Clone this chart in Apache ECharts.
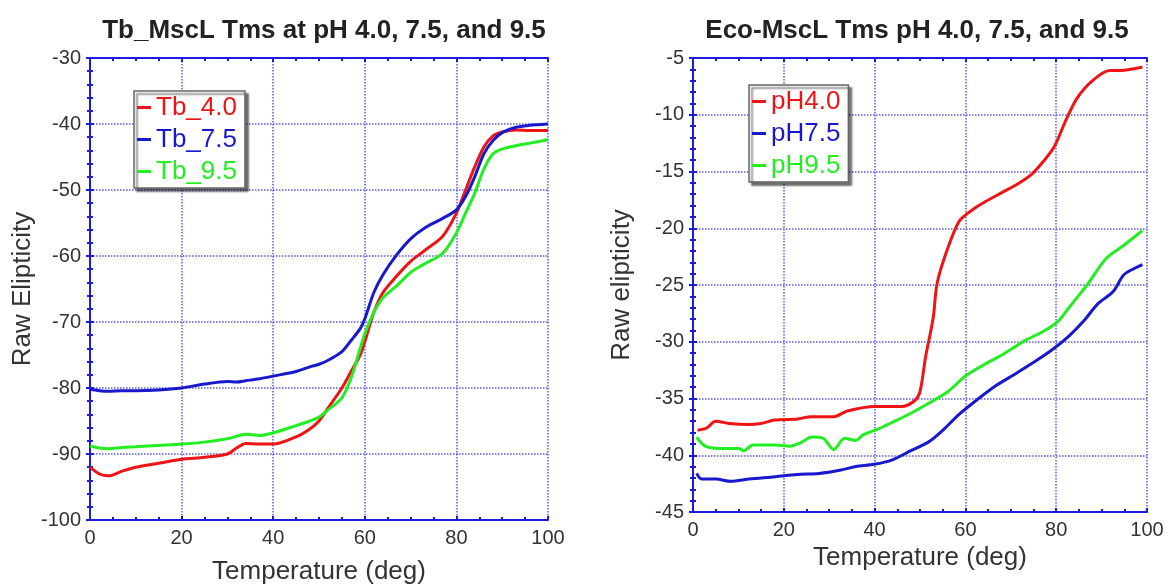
<!DOCTYPE html>
<html>
<head>
<meta charset="utf-8">
<script src="https://cdn.jsdelivr.net/npm/echarts@6/dist/echarts.min.js"></script>
<style>
html,body{margin:0;padding:0;background:#fff;}
#container{width:1170px;height:584px;}
</style>
</head>
<body>
<div id="container"></div>
<script>
// left panel: Tb_MscL
var tbTemp = [0,2,4,7,10,15,20,25,30,32,34,37,40,45,48,50,52,55,57,59,60,62,64,67,70,73,77,80,82,84,86,88,90,93,96,100];
var tb40 = [-92,-93,-93.3,-92.6,-92,-91.4,-90.8,-90.5,-90,-89.1,-88.4,-88.5,-88.5,-87.4,-86.2,-85,-83,-80,-77.5,-75,-73,-68.5,-65.5,-63,-60.8,-59.2,-57,-53.5,-50,-46.5,-43.5,-41.8,-41.2,-40.9,-41,-41];
var tb75 = [-80.2,-80.4,-80.5,-80.4,-80.4,-80.3,-80,-79.4,-79,-79.1,-78.9,-78.6,-78.2,-77.5,-76.8,-76.4,-75.8,-74.5,-72.8,-71,-69.5,-65.5,-62.8,-59.8,-57.4,-55.8,-54.3,-53,-51,-48,-44.5,-42.5,-41.3,-40.5,-40.2,-40];
var tb95 = [-88.8,-89.1,-89.2,-89,-88.9,-88.7,-88.5,-88.2,-87.7,-87.3,-87,-87.2,-86.8,-85.7,-85,-84.4,-83.3,-81.5,-78.5,-74,-71.8,-68.5,-66.3,-64.5,-62.5,-61.2,-59.6,-56.5,-53.5,-50.5,-46.8,-44.5,-43.8,-43.3,-42.9,-42.4];

// right panel: Eco-MscL
var ecoT40 = [1,3,5,8,12,15,18,23,26,31,34,40,46,48.8,50,51.2,52.9,53.7,55.3,58.6,61.8,64.2,68.3,71.5,74.7,77.2,79.6,82,84.5,87.7,91.8,94.2,99];
var eco40 = [-37.8,-37.6,-37,-37.2,-37.3,-37.2,-36.9,-36.8,-36.6,-36.6,-36.1,-35.7,-35.7,-35.2,-34.4,-31.4,-27.9,-25,-22.7,-19.4,-18.3,-17.7,-16.8,-16.1,-15.2,-14.1,-12.8,-10.6,-8.6,-7.1,-6.1,-6.1,-5.8];
var ecoT75 = [0.8,1.9,5.1,8.3,12.4,18.1,22.9,27.8,32.6,35.8,39.9,43.9,48,52,55.3,58.6,62.6,66.6,70.7,74.7,78.8,82.8,86,89.3,92.5,94.9,97.4,99];
var eco75 = [-41.6,-42.1,-42.1,-42.3,-42.1,-41.9,-41.7,-41.6,-41.3,-41,-40.8,-40.4,-39.6,-38.8,-37.7,-36.4,-35.1,-33.9,-32.9,-31.9,-30.8,-29.5,-28.2,-26.6,-25.6,-24.1,-23.5,-23.2];
var ecoT95 = [0.8,2.7,5.9,10,11.2,13.2,18.1,21.3,23.7,26.2,28.6,31,33.4,35.8,37.5,40.7,43.9,48,52,56.1,60.1,64.2,68.3,73.1,77.1,80.4,82.8,85.2,86.8,90.9,94.9,99];
var eco95 = [-38.4,-39.2,-39.4,-39.4,-39.6,-39.1,-39.1,-39.2,-38.9,-38.4,-38.5,-39.5,-38.5,-38.7,-38.2,-37.7,-37.1,-36.3,-35.4,-34.4,-33,-32,-31.1,-29.9,-29.1,-28.2,-27,-25.8,-25,-22.7,-21.5,-20.2];

var RED = '#ee1414', BLUE = '#1818cc', GREEN = '#22ee22';
var AXIS = '#1a1ae0';
var FONT = 'Liberation Sans, Arial, sans-serif';

function pairs(xs, ys){
    var out = [];
    for (var i = 0; i < xs.length; i++) out.push([xs[i], ys[i]]);
    return out;
}

// main axis (labels + grid) or mirror axis (ticks only)
function xAx(grid, pos, name, nameGap){
    var main = pos === 'bottom';
    return {
        type:'value', gridIndex:grid, position:pos, min:0, max:100, interval:20,
        name: main ? name : '', nameLocation:'middle', nameGap:nameGap,
        nameTextStyle:{fontFamily:FONT, fontSize:26, color:'#333'},
        axisLine:{show:true, lineStyle:{color:AXIS, width:2}},
        axisTick:{show:true, inside:true, length:4, lineStyle:{color:AXIS, width:2}},
        minorTick:{show:true, splitNumber:4, length:3, lineStyle:{color:AXIS, width:2}},
        axisLabel:{show:main, margin:8, fontFamily:FONT, fontSize:20, color:'#333'},
        splitLine:{show:main, lineStyle:{color:'#5a5af0', type:'dotted', width:1.5}}
    };
}
function yAx(grid, pos, min, max, step, name, nameGap){
    var main = pos === 'left';
    return {
        type:'value', gridIndex:grid, position:pos, min:min, max:max, interval:step,
        name: main ? name : '', nameLocation:'middle', nameGap:nameGap, nameRotate:90,
        nameTextStyle:{fontFamily:FONT, fontSize:26, color:'#333'},
        axisLine:{show:true, lineStyle:{color:AXIS, width:2}},
        axisTick:{show:true, inside:true, length:4, lineStyle:{color:AXIS, width:2}},
        minorTick:{show:true, splitNumber:5, length:3, lineStyle:{color:AXIS, width:2}},
        axisLabel:{show:main, margin:9, fontFamily:FONT, fontSize:20, color:'#333'},
        splitLine:{show:main, lineStyle:{color:'#5a5af0', type:'dotted', width:1.5}}
    };
}
function line(name, data, color, xi, yi){
    return {
        name:name, type:'line', xAxisIndex:xi, yAxisIndex:yi, data:data,
        showSymbol:false, smooth:0.3, lineStyle:{color:color, width:3}, itemStyle:{color:color}
    };
}
function legendBox(left, top, items){
    return {
        orient:'vertical', left:left, top:top, icon:'rect', itemWidth:14, itemHeight:3,
        itemGap:5, padding:[3,8,3,3],
        backgroundColor:'#fff', borderColor:'#666', borderWidth:1.5,
        shadowColor:'rgba(0,0,0,0.55)', shadowBlur:2, shadowOffsetX:3, shadowOffsetY:3,
        data: items.map(function(it){
            return {name:it[0], textStyle:{color:it[1], fontFamily:FONT, fontSize:26, lineHeight:27}};
        })
    };
}

var chart = echarts.init(document.getElementById('container'));
chart.setOption({
    animation:false,
    backgroundColor:'#fff',
    title:[
        {text:'Tb_MscL Tms at pH 4.0, 7.5, and 9.5', left:319, top:13, textAlign:'center',
         textStyle:{fontFamily:FONT, fontSize:26, fontWeight:'bold', color:'#222'}},
        {text:'Eco-MscL Tms pH 4.0, 7.5, and 9.5', left:912, top:13, textAlign:'center',
         textStyle:{fontFamily:FONT, fontSize:26, fontWeight:'bold', color:'#222'}}
    ],
    grid:[
        {left:90, top:58, width:458, height:462, outerBoundsMode:'none'},
        {left:693, top:58, width:454, height:454, outerBoundsMode:'none'}
    ],
    xAxis:[
        xAx(0, 'bottom', 'Temperature (deg)', 39),
        xAx(0, 'top'),
        xAx(1, 'bottom', 'Temperature (deg)', 22),
        xAx(1, 'top')
    ],
    yAxis:[
        yAx(0, 'left', -100, -30, 10, 'Raw Elipticity', 54),
        yAx(0, 'right', -100, -30, 10),
        yAx(1, 'left', -45, -5, 5, 'Raw elipticity', 58),
        yAx(1, 'right', -45, -5, 5)
    ],
    legend:[
        legendBox(134, 91, [['Tb_4.0', RED], ['Tb_7.5', BLUE], ['Tb_9.5', GREEN]]),
        legendBox(749, 85, [['pH4.0', RED], ['pH7.5', BLUE], ['pH9.5', GREEN]])
    ],
    series:[
        line('Tb_4.0', pairs(tbTemp, tb40), RED, 0, 0),
        line('Tb_7.5', pairs(tbTemp, tb75), BLUE, 0, 0),
        line('Tb_9.5', pairs(tbTemp, tb95), GREEN, 0, 0),
        line('pH4.0', pairs(ecoT40, eco40), RED, 2, 2),
        line('pH7.5', pairs(ecoT75, eco75), BLUE, 2, 2),
        line('pH9.5', pairs(ecoT95, eco95), GREEN, 2, 2)
    ]
});
</script>
</body>
</html>
